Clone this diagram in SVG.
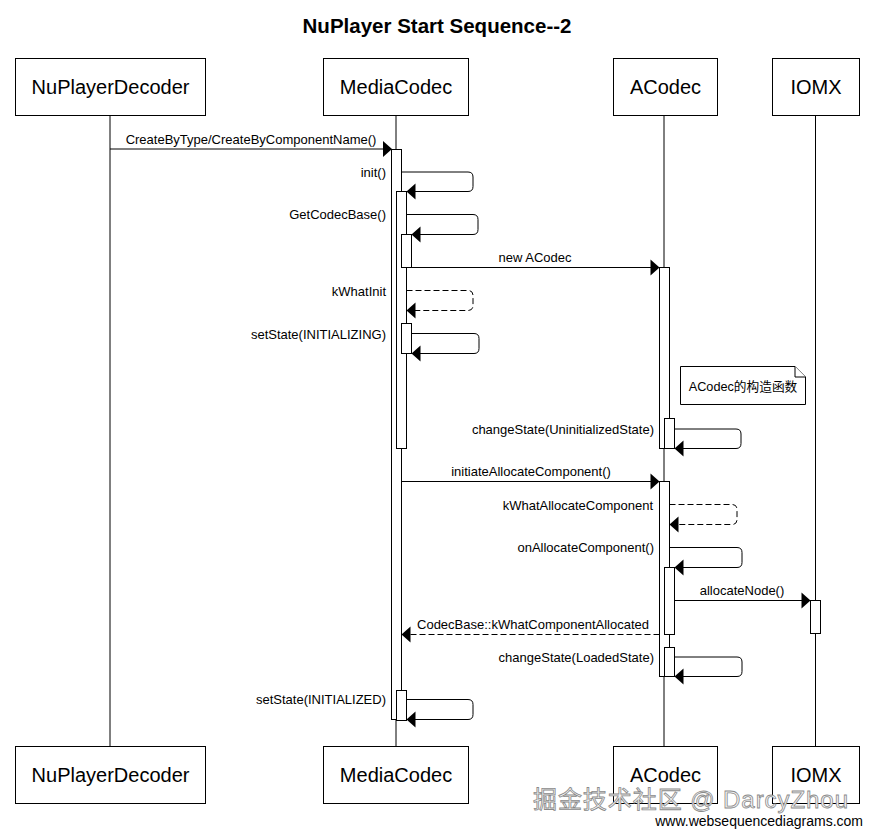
<svg xmlns="http://www.w3.org/2000/svg" width="873" height="837" viewBox="0 0 873 837">
<style>
  .box { fill: #ffffff; stroke: #000000; stroke-width: 1; }
  .pname { font-family: "Liberation Sans", Arial, sans-serif; font-size: 20px; fill: #000000; text-anchor: middle; }
  .life { stroke: #000000; stroke-width: 1; fill: none; }
  .bar { fill: #ffffff; stroke: #000000; stroke-width: 1; }
  .msg { stroke: #000000; stroke-width: 1; fill: none; }
  .dash { stroke-dasharray: 6 3; }
  .lbl { font-family: "Liberation Sans", Arial, sans-serif; font-size: 13px; fill: #000000; }
  .mid { text-anchor: middle; }
  .end { text-anchor: end; }
  .head { fill: #000000; stroke: none; }
  .note { fill: #ffffff; stroke: #000000; stroke-width: 1; }
</style>
<rect width="873" height="837" fill="#ffffff"/>
<text x="437" y="33" font-family="'Liberation Sans', Arial, sans-serif" font-size="20.5px" font-weight="bold" text-anchor="middle" fill="#000000">NuPlayer Start Sequence--2</text>

<g id="lifelines">
  <line class="life" x1="110" y1="115" x2="110" y2="746"/>
  <line class="life" x1="396" y1="115" x2="396" y2="746"/>
  <line class="life" x1="664" y1="115" x2="664" y2="746"/>
  <line class="life" x1="815.5" y1="115" x2="815.5" y2="746"/>
</g>

<g id="NuPlayerDecoder">
  <rect class="box" x="15.5" y="58.5" width="190" height="57"/>
  <text class="pname" x="110.5" y="94">NuPlayerDecoder</text>
  <rect class="box" x="15.5" y="746.5" width="190" height="57"/>
  <text class="pname" x="110.5" y="782">NuPlayerDecoder</text>
</g>
<g id="MediaCodec">
  <rect class="box" x="323.5" y="58.5" width="145" height="57"/>
  <text class="pname" x="396" y="94">MediaCodec</text>
  <rect class="box" x="323.5" y="746.5" width="145" height="57"/>
  <text class="pname" x="396" y="782">MediaCodec</text>
</g>
<g id="ACodec">
  <rect class="box" x="613.5" y="58.5" width="104" height="57"/>
  <text class="pname" x="665.5" y="94">ACodec</text>
  <rect class="box" x="613.5" y="746.5" width="104" height="57"/>
  <text class="pname" x="665.5" y="782">ACodec</text>
</g>
<g id="IOMX">
  <rect class="box" x="772.5" y="58.5" width="87" height="57"/>
  <text class="pname" x="816" y="94">IOMX</text>
  <rect class="box" x="772.5" y="746.5" width="87" height="57"/>
  <text class="pname" x="816" y="782">IOMX</text>
</g>

<g id="activations">
  <rect class="bar" x="391.5" y="149.5" width="10" height="570"/>
  <rect class="bar" x="396.5" y="191.5" width="10" height="257"/>
  <rect class="bar" x="401.5" y="234.5" width="10" height="33"/>
  <rect class="bar" x="401.5" y="323.5" width="10" height="30"/>
  <rect class="bar" x="396.5" y="690.5" width="10" height="30"/>
  <rect class="bar" x="659.5" y="267.5" width="10" height="181"/>
  <rect class="bar" x="664.5" y="418.5" width="10" height="30"/>
  <rect class="bar" x="659.5" y="481.5" width="10" height="195"/>
  <rect class="bar" x="664.5" y="567.5" width="10" height="67"/>
  <rect class="bar" x="664.5" y="647.5" width="10" height="29"/>
  <rect class="bar" x="810.5" y="600.5" width="10" height="33"/>
</g>

<g id="note">
  <path class="note" d="M680.5,366.5 H795 L805.5,377 V404.5 H680.5 Z"/>
  <path class="note" d="M795,366.5 V377 H805.5"/>
  <text x="743" y="391" font-family="'Liberation Sans', 'Noto Sans CJK SC', sans-serif" font-size="12.7px" text-anchor="middle" fill="#000000">ACodec的构造函数</text>
</g>

<g id="connectors">
  <!-- CreateByType -->
  <line class="msg" x1="110" y1="149" x2="383" y2="149"/>
  <polygon class="head" points="392,149 383,141 383,157"/>
  <text class="lbl mid" x="251" y="144">CreateByType/CreateByComponentName()</text>

  <!-- init() -->
  <path class="msg" d="M401.5,172 H468 Q473,172 473,177 V186.5 Q473,191.5 468,191.5 H415"/>
  <polygon class="head" points="406.5,191.5 415.5,183.5 415.5,199.5"/>
  <text class="lbl end" x="386" y="176.5">init()</text>

  <!-- GetCodecBase() -->
  <path class="msg" d="M406.5,214.5 H473 Q478,214.5 478,219.5 V229.5 Q478,234.5 473,234.5 H420"/>
  <polygon class="head" points="411.5,234.5 420.5,226.5 420.5,242.5"/>
  <text class="lbl end" x="386" y="219">GetCodecBase()</text>

  <!-- new ACodec -->
  <line class="msg" x1="411.5" y1="267.5" x2="651" y2="267.5"/>
  <polygon class="head" points="659.5,267.5 650.5,259.5 650.5,275.5"/>
  <text class="lbl mid" x="535" y="262">new ACodec</text>

  <!-- kWhatInit -->
  <path class="msg dash" d="M406.5,290.5 H468 Q473,290.5 473,295.5 V305.5 Q473,310.5 468,310.5 H415"/>
  <polygon class="head" points="406.5,310.5 415.5,302.5 415.5,318.5"/>
  <text class="lbl end" x="386" y="296">kWhatInit</text>

  <!-- setState(INITIALIZING) -->
  <path class="msg" d="M411.5,333.5 H474 Q479,333.5 479,338.5 V348.5 Q479,353.5 474,353.5 H420"/>
  <polygon class="head" points="411.5,353.5 420.5,345.5 420.5,361.5"/>
  <text class="lbl end" x="386" y="338.5">setState(INITIALIZING)</text>

  <!-- changeState(UninitializedState) -->
  <path class="msg" d="M674.5,429 H736 Q741,429 741,434 V443.5 Q741,448.5 736,448.5 H683"/>
  <polygon class="head" points="674.5,448.5 683.5,440.5 683.5,456.5"/>
  <text class="lbl end" x="654" y="434">changeState(UninitializedState)</text>

  <!-- initiateAllocateComponent() -->
  <line class="msg" x1="401.5" y1="481.5" x2="651" y2="481.5"/>
  <polygon class="head" points="659.5,481.5 650.5,473.5 650.5,489.5"/>
  <text class="lbl mid" x="531" y="476">initiateAllocateComponent()</text>

  <!-- kWhatAllocateComponent -->
  <path class="msg dash" d="M669.5,504.5 H732 Q737,504.5 737,509.5 V519.5 Q737,524.5 732,524.5 H678"/>
  <polygon class="head" points="669.5,524.5 678.5,516.5 678.5,532.5"/>
  <text class="lbl end" x="653" y="509.5">kWhatAllocateComponent</text>

  <!-- onAllocateComponent() -->
  <path class="msg" d="M669.5,547.5 H737 Q742,547.5 742,552.5 V562.5 Q742,567.5 737,567.5 H683"/>
  <polygon class="head" points="674.5,567.5 683.5,559.5 683.5,575.5"/>
  <text class="lbl end" x="654" y="552">onAllocateComponent()</text>

  <!-- allocateNode() -->
  <line class="msg" x1="674.5" y1="600.5" x2="802" y2="600.5"/>
  <polygon class="head" points="810.5,600.5 801.5,592.5 801.5,608.5"/>
  <text class="lbl mid" x="742" y="595">allocateNode()</text>

  <!-- CodecBase::kWhatComponentAllocated -->
  <line class="msg dash" x1="659.5" y1="634.5" x2="410" y2="634.5"/>
  <polygon class="head" points="401.5,634.5 410.5,626.5 410.5,642.5"/>
  <text class="lbl mid" x="533" y="628.5">CodecBase::kWhatComponentAllocated</text>

  <!-- changeState(LoadedState) -->
  <path class="msg" d="M674.5,657 H737 Q742,657 742,662 V671.5 Q742,676.5 737,676.5 H683"/>
  <polygon class="head" points="674.5,676.5 683.5,668.5 683.5,684.5"/>
  <text class="lbl end" x="654" y="661.5">changeState(LoadedState)</text>

  <!-- setState(INITIALIZED) -->
  <path class="msg" d="M406.5,699.5 H468 Q473,699.5 473,704.5 V714.5 Q473,719.5 468,719.5 H415"/>
  <polygon class="head" points="406.5,719.5 415.5,711.5 415.5,727.5"/>
  <text class="lbl end" x="386" y="704">setState(INITIALIZED)</text>
</g>

<text x="533" y="808" font-family="'Liberation Sans', 'Noto Sans CJK SC', sans-serif" font-size="24px" fill="#f4f4f4" stroke="#8a8a8a" stroke-width="0.8" textLength="315">掘金技术社区 @ DarcyZhou</text>
<text x="863" y="826" font-family="'Liberation Sans', Arial, sans-serif" font-size="14px" text-anchor="end" fill="#000000">www.websequencediagrams.com</text>
</svg>
